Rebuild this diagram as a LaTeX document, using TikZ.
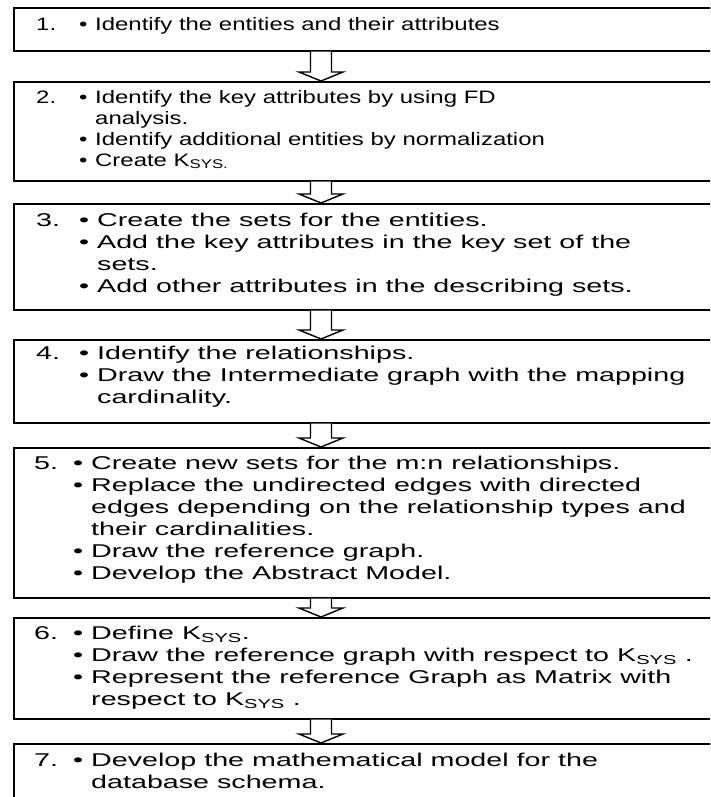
\documentclass[tikz,border=0pt]{standalone}
\usepackage{fontspec}
\setmainfont{Liberation Sans}
\newfontfamily\narrowface{Liberation Sans}[FakeStretch=1.33]
\newfontfamily\wideface{Liberation Sans}[FakeStretch=1.55]
\usetikzlibrary{calc}
\tikzset{
  stepbox/.style={draw=black, line width=1.6pt, fill=white, rectangle,
    anchor=north west, minimum width=760pt, inner sep=0pt},
  steptext/.style={anchor=base west, inner sep=0pt, align=left},
  flowarrow/.style={draw=black, line width=1.4pt, fill=white, line join=miter}
}
\newcommand\Ksys{K\textsubscript{SYS}}
% #1 font set-up, #2 width of the number column, #3 width of the bullet column
\newcommand\steplist[4]{%
  #1%
  \begin{tabular}[t]{@{}p{#2}@{}p{#3}@{}l@{}}#4\end{tabular}}
\newcommand\smallstep{\narrowface\fontsize{18}{21}\selectfont}
\newcommand\largestep{\wideface\fontsize{18.5}{22}\selectfont}
% outlined block arrow from the bottom of one box to the top of the next
\newcommand\blockarrow[2]{%
  \path (#1.south -| ax) coordinate (s) (#2.north -| ax) coordinate (t);
  \draw[flowarrow] ($(s)+(-10.5,0)$) -- ($(t)+(-10.5,-9)$) -- ($(t)+(-22,-9)$)
    -- (t) -- ($(t)+(22,-9)$) -- ($(t)+(10.5,-9)$) -- ($(s)+(10.5,0)$);}
\begin{document}
\begin{tikzpicture}[x=1pt,y=-1pt]
\useasboundingbox (0,0) rectangle (710,797);
\clip (0,0) rectangle (710,797);
\fill[white] (0,0) rectangle (710,797);
\coordinate (ax) at (321,0);

\node[stepbox, minimum height=43pt]  (b1) at (13,7)   {};
\node[stepbox, minimum height=99pt]  (b2) at (13,81)  {};
\node[stepbox, minimum height=106pt] (b3) at (13,203) {};
\node[stepbox, minimum height=83pt]  (b4) at (13,339) {};
\node[stepbox, minimum height=150pt] (b5) at (13,447) {};
\node[stepbox, minimum height=101pt] (b6) at (13,617) {};
\node[stepbox, minimum height=80pt]  (b7) at (13,743) {};

\node[steptext] (t1) at (36,31) {\steplist{\smallstep}{43pt}{16pt}{
  1. & • & Identify the entities and their attributes}};
\node[steptext] (t2) at (36,103) {\steplist{\smallstep}{43pt}{16pt}{
  2. & • & Identify the key attributes by using FD\\
     &   & analysis.\\
     & • & Identify additional entities by normalization\\
     & • & Create K\textsubscript{SYS.}}};
\node[steptext] (t3) at (36,226) {\steplist{\largestep}{43pt}{18pt}{
  3. & • & Create the sets for the entities.\\
     & • & Add the key attributes in the key set of the\\
     &   & sets.\\
     & • & Add other attributes in the describing sets.}};
\node[steptext] (t4) at (36,359) {\steplist{\largestep}{43pt}{18pt}{
  4. & • & Identify the relationships.\\
     & • & Draw the Intermediate graph with the mapping\\
     &   & cardinality.}};
\node[steptext] (t5) at (34,469) {\steplist{\largestep}{39pt}{18pt}{
  5. & • & Create new sets for the m:n relationships.\\
     & • & Replace the undirected edges with directed\\
     &   & edges depending on the relationship types and\\
     &   & their cardinalities.\\
     & • & Draw the reference graph.\\
     & • & Develop the Abstract Model.}};
\node[steptext] (t6) at (34,639) {\steplist{\largestep}{39pt}{18pt}{
  6. & • & Define \Ksys.\\
     & • & Draw the reference graph with respect to \Ksys{} .\\
     & • & Represent the reference Graph as Matrix with\\
     &   & respect to \Ksys{} .}};
\node[steptext] (t7) at (34,766) {\steplist{\largestep}{39pt}{18pt}{
  7. & • & Develop the mathematical model for the\\
     &   & database schema.}};

\blockarrow{b1}{b2}
\blockarrow{b2}{b3}
\blockarrow{b3}{b4}
\blockarrow{b4}{b5}
\blockarrow{b5}{b6}
\blockarrow{b6}{b7}
\end{tikzpicture}
\end{document}
